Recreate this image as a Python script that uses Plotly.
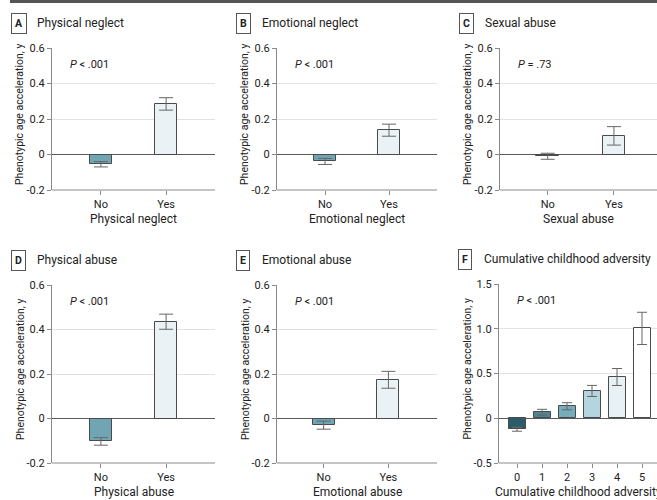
import plotly.graph_objects as go

W, H = 657, 500

# ---------------- data ----------------
yes_no = ["No", "Yes"]
physical_neglect = [-0.055, 0.285]
physical_neglect_err = [0.015, 0.035]
emotional_neglect = [-0.039, 0.137]
emotional_neglect_err = [0.017, 0.034]
sexual_abuse = [-0.010, 0.105]
sexual_abuse_err = [0.017, 0.052]
physical_abuse = [-0.103, 0.435]
physical_abuse_err = [0.017, 0.034]
emotional_abuse = [-0.030, 0.174]
emotional_abuse_err = [0.018, 0.038]
adversity_levels = ["0", "1", "2", "3", "4", "5"]
cumulative_adversity = [-0.123, 0.067, 0.134, 0.305, 0.461, 1.004]
cumulative_adversity_err = [0.022, 0.033, 0.040, 0.062, 0.095, 0.180]

panel_letters = ["A", "B", "C", "D", "E", "F"]
panel_titles = ["Physical neglect", "Emotional neglect", "Sexual abuse",
                "Physical abuse", "Emotional abuse", "Cumulative childhood adversity"]
p_values = ["<i>P</i> < .001", "<i>P</i> < .001", "<i>P</i> = .73",
            "<i>P</i> < .001", "<i>P</i> < .001", "<i>P</i> < .001"]
ytick_small = [-0.2, 0, 0.2, 0.4, 0.6]
ytick_small_text = ["-0.2", "0", "0.2", "0.4", "0.6"]
ytick_big = [-0.5, 0, 0.5, 1.0, 1.5]
ytick_big_text = ["-0.5", "0", "0.5", "1.0", "1.5"]
y_title = "Phenotypic age acceleration, y"

no_color = "#70a6b4"
yes_color = "#eaf2f6"
adv_colors = ["#2c5c69", "#4e8694", "#76adbb", "#b4d5de", "#e8f1f5", "#ffffff"]

FONT = "Roboto, Arial, sans-serif"
AX = "#8a8a8a"
GRID = "#e2e2e2"
ZERO = "#5a5a5a"

def px(x):
    return x / W

def py(y):
    return 1 - y / H

# panel pixel geometry: (x0, x1, ytop, ybottom)
geo = [
    (52, 215, 48, 190),
    (277, 437, 48, 190),
    (500, 657, 48, 190),
    (52, 215, 285, 463),
    (277, 437, 285, 463),
    (499, 657, 284, 463),
]
xranges = [[-0.75, 1.75], [-0.75, 1.75], [-0.72, 1.65],
           [-0.75, 1.75], [-0.72, 1.75], [-0.72, 5.6]]

series = [
    (yes_no, physical_neglect, physical_neglect_err, [no_color, yes_color]),
    (yes_no, emotional_neglect, emotional_neglect_err, [no_color, yes_color]),
    (yes_no, sexual_abuse, sexual_abuse_err, [no_color, yes_color]),
    (yes_no, physical_abuse, physical_abuse_err, [no_color, yes_color]),
    (yes_no, emotional_abuse, emotional_abuse_err, [no_color, yes_color]),
    (adversity_levels, cumulative_adversity, cumulative_adversity_err, adv_colors),
]

fig = go.Figure()
annotations = []
layout = {}

for i, (cats, vals, errs, cols) in enumerate(series):
    n = i + 1
    xa = "x" if n == 1 else f"x{n}"
    ya = "y" if n == 1 else f"y{n}"
    x0, x1, yt, yb = geo[i]
    big = i == 5
    fig.add_trace(go.Bar(
        x=cats, y=vals, xaxis=xa, yaxis=ya,
        marker=dict(color=cols, line=dict(color="#4a4a4a", width=1)),
        width=0.68 if big else 0.34,
        error_y=dict(type="data", array=errs, visible=True,
                     color="#666666", thickness=1, width=5 if big else 7),
        showlegend=False, hoverinfo="skip",
    ))
    layout["xaxis" if n == 1 else f"xaxis{n}"] = dict(
        domain=[px(x0), px(x1)], anchor=ya, type="category",
        range=xranges[i], showgrid=False, zeroline=False,
        showline=False, ticks="outside", ticklen=4, tickcolor=AX,
        tickfont=dict(family=FONT, size=11, color="#222"),
        automargin=False, fixedrange=True,
    )
    layout["yaxis" if n == 1 else f"yaxis{n}"] = dict(
        domain=[py(yb), py(yt)], anchor=xa,
        range=[-0.5, 1.5] if big else [-0.2, 0.6],
        tickvals=ytick_big if big else ytick_small,
        ticktext=ytick_big_text if big else ytick_small_text,
        showgrid=True, gridcolor=GRID, gridwidth=1,
        zeroline=True, zerolinecolor=ZERO, zerolinewidth=1,
        showline=True, linecolor=AX, linewidth=1,
        ticks="outside", ticklen=4, tickcolor=AX,
        tickfont=dict(family=FONT, size=11, color="#222"),
        automargin=False, fixedrange=True,
    )
    # bottom axis line
    fig.add_shape(type="line", xref="paper", yref="paper",
                  x0=px(x0), x1=px(x1), y0=py(yb), y1=py(yb),
                  line=dict(color=AX, width=1))
    # panel letter box + title
    label_y = yt - 25
    lx = x0 - 41
    annotations.append(dict(
        xref="paper", yref="paper", x=px(lx), y=py(label_y),
        xanchor="left", yanchor="middle", showarrow=False,
        text=f"<b>{panel_letters[i]}</b>",
        font=dict(family=FONT, size=10.5, color="#222"),
        bordercolor="#555", borderwidth=1, borderpad=3, bgcolor="white",
    ))
    annotations.append(dict(
        xref="paper", yref="paper", x=px(lx + 24), y=py(label_y),
        xanchor="left", yanchor="middle", showarrow=False,
        text=panel_titles[i],
        font=dict(family=FONT, size=12, color="#222"),
    ))
    # P value
    annotations.append(dict(
        xref="paper", yref="paper", x=px(x0 + 16), y=py(yt + 16),
        xanchor="left", yanchor="middle", showarrow=False,
        text=p_values[i],
        font=dict(family=FONT, size=11, color="#222"),
    ))
    # y title
    annotations.append(dict(
        xref="paper", yref="paper", x=px(x0 - 32), y=py((yt + yb) / 2 - 4),
        xanchor="center", yanchor="middle", showarrow=False, textangle=-90,
        text=y_title,
        font=dict(family=FONT, size=10.5, color="#222"),
    ))
    # x title
    annotations.append(dict(
        xref="paper", yref="paper", x=px((x0 + x1) / 2), y=py(yb + 29),
        xanchor="center", yanchor="middle", showarrow=False,
        text=panel_titles[i],
        font=dict(family=FONT, size=12, color="#222"),
    ))

# top rule
fig.add_shape(type="line", xref="paper", yref="paper",
              x0=px(10), x1=1, y0=py(1.5), y1=py(1.5),
              line=dict(color="#555555", width=3))

fig.update_layout(
    width=W, height=H, margin=dict(l=0, r=0, t=0, b=0, autoexpand=False),
    paper_bgcolor="white", plot_bgcolor="white",
    annotations=annotations, bargap=0, **layout,
)

fig.write_html("out.html", config={"displayModeBar": False},
               post_script="document.body.style.margin='0';")
